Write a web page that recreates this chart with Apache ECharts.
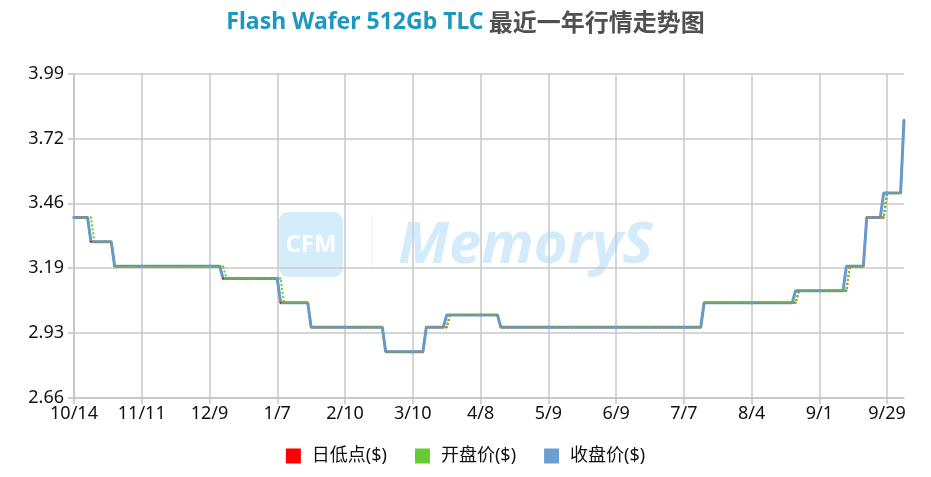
<!DOCTYPE html>
<html><head><meta charset="utf-8">
<script src="https://cdn.jsdelivr.net/npm/echarts@6/dist/echarts.min.js"></script>
<style>html,body{margin:0;padding:0;background:#fff}#c{width:931px;height:477px}</style>
</head><body><div id="c"></div>
<script>
const titleMain = 'Flash Wafer 512Gb TLC';
const titleSub = '最近一年行情走势图';
const seriesNames = ['日低点($)', '开盘价($)', '收盘价($)'];
const startDate = '2024-10-14';
const holidays = ['2025-01-01','2025-01-28','2025-01-29','2025-01-30','2025-01-31','2025-04-04','2025-05-01','2025-05-02','2025-05-05','2025-06-02','2025-10-01','2025-10-02','2025-10-03','2025-10-06','2025-10-07','2025-10-08'];

const closePrice = [
3.40,3.40,3.40,3.40,3.40,3.30,3.30,3.30,3.30,3.30,3.30,3.30,3.20,3.20,3.20,3.20,3.20,3.20,3.20,3.20,
3.20,3.20,3.20,3.20,3.20,3.20,3.20,3.20,3.20,3.20,3.20,3.20,3.20,3.20,3.20,3.20,3.20,3.20,3.20,3.20,
3.20,3.20,3.20,3.20,3.15,3.15,3.15,3.15,3.15,3.15,3.15,3.15,3.15,3.15,3.15,3.15,3.15,3.15,3.15,3.15,
3.15,3.05,3.05,3.05,3.05,3.05,3.05,3.05,3.05,3.05,2.95,2.95,2.95,2.95,2.95,2.95,2.95,2.95,2.95,2.95,
2.95,2.95,2.95,2.95,2.95,2.95,2.95,2.95,2.95,2.95,2.95,2.95,2.85,2.85,2.85,2.85,2.85,2.85,2.85,2.85,
2.85,2.85,2.85,2.85,2.95,2.95,2.95,2.95,2.95,2.95,3.00,3.00,3.00,3.00,3.00,3.00,3.00,3.00,3.00,3.00,
3.00,3.00,3.00,3.00,3.00,3.00,2.95,2.95,2.95,2.95,2.95,2.95,2.95,2.95,2.95,2.95,2.95,2.95,2.95,2.95,
2.95,2.95,2.95,2.95,2.95,2.95,2.95,2.95,2.95,2.95,2.95,2.95,2.95,2.95,2.95,2.95,2.95,2.95,2.95,2.95,
2.95,2.95,2.95,2.95,2.95,2.95,2.95,2.95,2.95,2.95,2.95,2.95,2.95,2.95,2.95,2.95,2.95,2.95,2.95,2.95,
2.95,2.95,2.95,2.95,2.95,2.95,3.05,3.05,3.05,3.05,3.05,3.05,3.05,3.05,3.05,3.05,3.05,3.05,3.05,3.05,
3.05,3.05,3.05,3.05,3.05,3.05,3.05,3.05,3.05,3.05,3.05,3.05,3.05,3.10,3.10,3.10,3.10,3.10,3.10,3.10,
3.10,3.10,3.10,3.10,3.10,3.10,3.10,3.10,3.20,3.20,3.20,3.20,3.20,3.20,3.40,3.40,3.40,3.40,3.40,3.50,
3.50,3.50,3.50,3.50,3.50,3.80
];

const openPrice = [
3.40,3.40,3.40,3.40,3.40,3.40,3.30,3.30,3.30,3.30,3.30,3.30,3.20,3.20,3.20,3.20,3.20,3.20,3.20,3.20,
3.20,3.20,3.20,3.20,3.20,3.20,3.20,3.20,3.20,3.20,3.20,3.20,3.20,3.20,3.20,3.20,3.20,3.20,3.20,3.20,
3.20,3.20,3.20,3.20,3.20,3.15,3.15,3.15,3.15,3.15,3.15,3.15,3.15,3.15,3.15,3.15,3.15,3.15,3.15,3.15,
3.15,3.15,3.05,3.05,3.05,3.05,3.05,3.05,3.05,3.05,2.95,2.95,2.95,2.95,2.95,2.95,2.95,2.95,2.95,2.95,
2.95,2.95,2.95,2.95,2.95,2.95,2.95,2.95,2.95,2.95,2.95,2.95,2.85,2.85,2.85,2.85,2.85,2.85,2.85,2.85,
2.85,2.85,2.85,2.85,2.95,2.95,2.95,2.95,2.95,2.95,2.95,3.00,3.00,3.00,3.00,3.00,3.00,3.00,3.00,3.00,
3.00,3.00,3.00,3.00,3.00,3.00,2.95,2.95,2.95,2.95,2.95,2.95,2.95,2.95,2.95,2.95,2.95,2.95,2.95,2.95,
2.95,2.95,2.95,2.95,2.95,2.95,2.95,2.95,2.95,2.95,2.95,2.95,2.95,2.95,2.95,2.95,2.95,2.95,2.95,2.95,
2.95,2.95,2.95,2.95,2.95,2.95,2.95,2.95,2.95,2.95,2.95,2.95,2.95,2.95,2.95,2.95,2.95,2.95,2.95,2.95,
2.95,2.95,2.95,2.95,2.95,2.95,3.05,3.05,3.05,3.05,3.05,3.05,3.05,3.05,3.05,3.05,3.05,3.05,3.05,3.05,
3.05,3.05,3.05,3.05,3.05,3.05,3.05,3.05,3.05,3.05,3.05,3.05,3.05,3.05,3.10,3.10,3.10,3.10,3.10,3.10,
3.10,3.10,3.10,3.10,3.10,3.10,3.10,3.10,3.10,3.20,3.20,3.20,3.20,3.20,3.40,3.40,3.40,3.40,3.40,3.40,
3.50,3.50,3.50,3.50,3.50,3.80
];

const lowPrice = [
3.40,3.40,3.40,3.40,3.40,3.30,3.30,3.30,3.30,3.30,3.30,3.30,3.20,3.20,3.20,3.20,3.20,3.20,3.20,3.20,
3.20,3.20,3.20,3.20,3.20,3.20,3.20,3.20,3.20,3.20,3.20,3.20,3.20,3.20,3.20,3.20,3.20,3.20,3.20,3.20,
3.20,3.20,3.20,3.20,3.15,3.15,3.15,3.15,3.15,3.15,3.15,3.15,3.15,3.15,3.15,3.15,3.15,3.15,3.15,3.15,
3.15,3.05,3.05,3.05,3.05,3.05,3.05,3.05,3.05,3.05,2.95,2.95,2.95,2.95,2.95,2.95,2.95,2.95,2.95,2.95,
2.95,2.95,2.95,2.95,2.95,2.95,2.95,2.95,2.95,2.95,2.95,2.95,2.85,2.85,2.85,2.85,2.85,2.85,2.85,2.85,
2.85,2.85,2.85,2.85,2.95,2.95,2.95,2.95,2.95,2.95,2.95,3.00,3.00,3.00,3.00,3.00,3.00,3.00,3.00,3.00,
3.00,3.00,3.00,3.00,3.00,3.00,2.95,2.95,2.95,2.95,2.95,2.95,2.95,2.95,2.95,2.95,2.95,2.95,2.95,2.95,
2.95,2.95,2.95,2.95,2.95,2.95,2.95,2.95,2.95,2.95,2.95,2.95,2.95,2.95,2.95,2.95,2.95,2.95,2.95,2.95,
2.95,2.95,2.95,2.95,2.95,2.95,2.95,2.95,2.95,2.95,2.95,2.95,2.95,2.95,2.95,2.95,2.95,2.95,2.95,2.95,
2.95,2.95,2.95,2.95,2.95,2.95,3.05,3.05,3.05,3.05,3.05,3.05,3.05,3.05,3.05,3.05,3.05,3.05,3.05,3.05,
3.05,3.05,3.05,3.05,3.05,3.05,3.05,3.05,3.05,3.05,3.05,3.05,3.05,3.05,3.10,3.10,3.10,3.10,3.10,3.10,
3.10,3.10,3.10,3.10,3.10,3.10,3.10,3.10,3.10,3.20,3.20,3.20,3.20,3.20,3.40,3.40,3.40,3.40,3.40,3.40,
3.50,3.50,3.50,3.50,3.50,3.80
];

const yMin = 2.66, yMax = 3.99, yStep = 0.266;

function buildTradingDays(n) {
  const out = [];
  const p = startDate.split('-').map(Number);
  let t = Date.UTC(p[0], p[1] - 1, p[2]);
  while (out.length < n) {
    const d = new Date(t);
    const wd = d.getUTCDay();
    const iso = d.toISOString().slice(0, 10);
    if (wd !== 0 && wd !== 6 && holidays.indexOf(iso) < 0) {
      out.push((d.getUTCMonth() + 1) + '/' + d.getUTCDate());
    }
    t += 86400000;
  }
  return out;
}
const categories = buildTradingDays(closePrice.length);

const FONT = '"Noto Sans", "Noto Sans CJK SC", sans-serif';
const chart = echarts.init(document.getElementById('c'));
chart.setOption({
  animation: false,
  backgroundColor: '#fff',
  title: {
    left: 'center', top: 5,
    text: '{a|' + titleMain + '} {b|' + titleSub + '}',
    textStyle: {
      rich: {
        a: { fontSize: 23, fontWeight: 'bold', color: '#1a98c0', fontFamily: FONT },
        b: { fontSize: 24, fontWeight: 'bold', color: '#505050', fontFamily: '"Noto Sans CJK SC", sans-serif' }
      }
    }
  },
  graphic: [
    { type: 'rect', z: -10, shape: { x: 279, y: 212, width: 64, height: 65, r: 9 }, style: { fill: '#d5edfb' } },
    { type: 'text', z: -9, style: { x: 311, y: 245, text: 'CFM', fill: '#ffffff', font: 'bold 24px "Noto Sans", sans-serif', textAlign: 'center', textVerticalAlign: 'middle' } },
    { type: 'rect', z: -10, shape: { x: 371, y: 213, width: 1, height: 58 }, style: { fill: '#eef5fa' } },
    { type: 'text', z: -9, style: { x: 398, y: 246, text: 'MemoryS', fill: '#d3ebfa', font: 'italic bold 58px "Noto Sans", sans-serif', textAlign: 'left', textVerticalAlign: 'middle' } }
  ],
  legend: {
    bottom: 7, left: 'center',
    icon: 'rect', itemWidth: 15, itemHeight: 15, itemGap: 28,
    textStyle: { fontSize: 18, color: '#111', fontFamily: FONT, padding: [0, 0, 0, 6] },
    data: seriesNames
  },
  grid: { left: 74, right: 27, top: 73.5, bottom: 79, containLabel: false },
  xAxis: {
    type: 'category', boundaryGap: false, data: categories,
    axisLine: { show: true, lineStyle: { color: '#c3c3c3', width: 1.5 } },
    axisTick: { show: true, interval: 19, length: 6, lineStyle: { color: '#c3c3c3', width: 1.5 } },
    axisLabel: { interval: 19, color: '#111', fontSize: 18, margin: 7, fontFamily: FONT },
    splitLine: { show: true, interval: 19, lineStyle: { color: '#c8c8c8', width: 1.5 } }
  },
  yAxis: {
    type: 'value', min: yMin, max: yMax, interval: yStep,
    axisLine: { show: true, lineStyle: { color: '#c3c3c3', width: 1.5 } },
    axisTick: { show: true, length: 6, lineStyle: { color: '#c3c3c3', width: 1.5 } },
    axisLabel: { color: '#111', fontSize: 18, margin: 10, fontFamily: FONT, formatter: v => v.toFixed(2) },
    splitLine: { show: true, lineStyle: { color: '#c8c8c8', width: 1.5 } }
  },
  series: [
    { name: seriesNames[0], type: 'line', data: lowPrice, symbol: 'circle', symbolSize: 2, showSymbol: true,
      lineStyle: { color: '#ff0000', width: 2, type: 'dotted' }, itemStyle: { color: '#ff0000' } },
    { name: seriesNames[1], type: 'line', data: openPrice, symbol: 'circle', symbolSize: 2, showSymbol: true,
      lineStyle: { color: '#66cc33', width: 2, type: 'dotted' }, itemStyle: { color: '#66cc33' } },
    { name: seriesNames[2], type: 'line', data: closePrice, symbol: 'circle', symbolSize: 3.5, showSymbol: true,
      lineStyle: { color: '#6699cc', width: 3 }, itemStyle: { color: '#6b9fd4' } }
  ]
});
</script>
</body></html>
